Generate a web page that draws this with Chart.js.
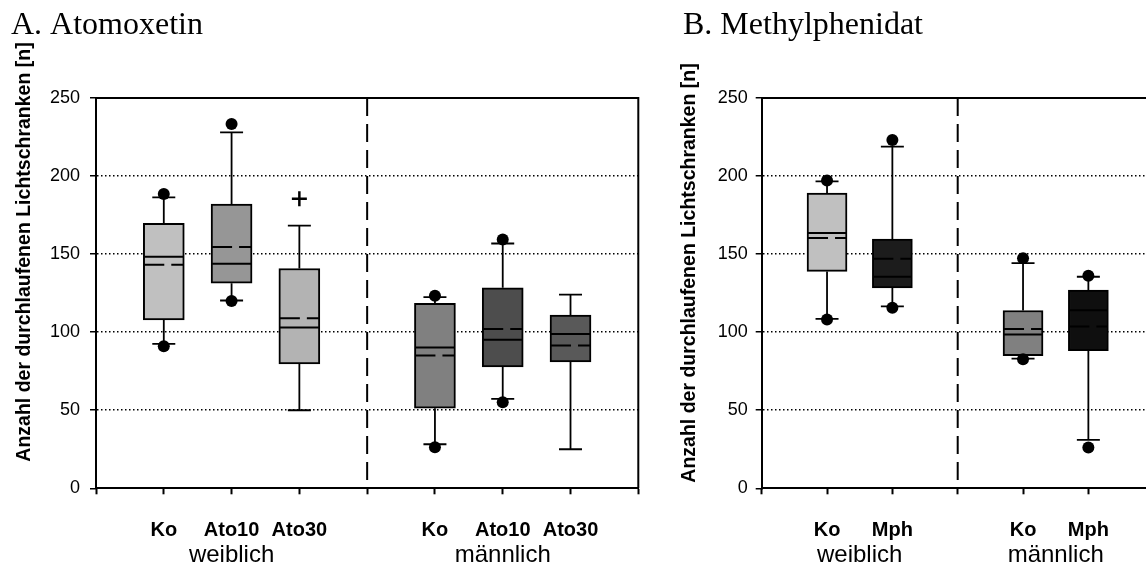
<!DOCTYPE html>
<html><head><meta charset="utf-8">
<script src="https://cdn.jsdelivr.net/npm/chart.js@4.4.1/dist/chart.umd.min.js"></script>
<style>
html,body{margin:0;padding:0;background:#fff;overflow:hidden;width:1146px;height:566px;position:relative;}
canvas{position:absolute;top:0;}
#cA{left:0}
#cB{left:660px}
</style></head><body>
<canvas id="cA" width="660" height="566"></canvas>
<canvas id="cB" width="500" height="566"></canvas>
<script>
// ---------- Data: A. Atomoxetin ----------
const titleA = 'A. Atomoxetin';
const groupsA = ['weiblich', 'männlich'];
const treatmentsA = ['Ko', 'Ato10', 'Ato30'];
const whiskerLowA  = [92.5, 120.3, 50.0, 28.2, 57.3, 25.0];
const q1A          = [107.9, 131.4, 79.7, 51.3, 77.8, 81.0];
const medianA      = [148.3, 143.8, 103.0, 90.2, 95.1, 98.9];
const meanA        = [143.2, 154.5, 109.0, 85.0, 102.1, 91.5];
const q3A          = [169.7, 182.0, 140.8, 118.4, 128.4, 110.9];
const whiskerHighA = [186.3, 228.0, 168.2, 122.4, 156.8, 124.1];
const dotHighA     = [188.5, 233.3, null, 123.3, 159.4, null];
const dotLowA      = [91.0, 120.0, null, 26.3, 55.1, null];
const outlierA     = [null, null, 185.5, null, null, null];
const colorsA      = ['#c0c0c0', '#969696', '#b3b3b3', '#808080', '#4d4d4d', '#595959'];

// ---------- Data: B. Methylphenidat ----------
const titleB = 'B. Methylphenidat';
const groupsB = ['weiblich', 'männlich'];
const treatmentsB = ['Ko', 'Mph'];
const whiskerLowB  = [108.5, 116.5, 83.1, 31.0];
const q1B          = [138.9, 128.4, 85.0, 88.2];
const medianB      = [163.5, 135.5, 98.5, 114.1];
const meanB        = [160.3, 147.0, 102.1, 103.6];
const q3B          = [189.1, 159.6, 113.9, 126.9];
const whiskerHighB = [196.6, 218.8, 144.2, 135.5];
const dotHighB     = [197.2, 223.1, 147.4, 136.1];
const dotLowB      = [108.1, 115.6, 82.7, 26.1];
const outlierB     = [null, null, null, null];
const colorsB      = ['#c0c0c0', '#1c1c1c', '#808080', '#0f0f0f'];

const yTicks = [0, 50, 100, 150, 200, 250];
const yAxisTitle = 'Anzahl der durchlaufenen Lichtschranken [n]';

const SANS = "'Liberation Sans', Arial, sans-serif";
const SERIF = "'Liberation Serif', 'Times New Roman', serif";

function makeChart(canvasId, d, lay) {
  const n = d.treatments.length;
  const nGroups = d.groups.length;
  const slot = i => Math.floor(i / n) * (n + 1) + (i % n) + 1;
  const pos = d.q1.map((_, i) => slot(i));
  const xMax = nGroups * (n + 1);
  const pts = arr => arr.map((v, i) => v == null ? null : {x: pos[i], y: v}).filter(Boolean);

  const plugin = {
    id: 'boxparts',
    beforeDatasetsDraw(chart) {
      const {ctx, chartArea: a, scales: {x, y}} = chart;
      ctx.save();
      ctx.strokeStyle = '#000';
      for (let g = 1; g < nGroups; g++) {
        const dx = x.getPixelForValue(g * (n + 1));
        ctx.lineWidth = 2;
        ctx.setLineDash([18, 8]);
        ctx.beginPath(); ctx.moveTo(dx, a.top); ctx.lineTo(dx, a.bottom); ctx.stroke();
      }
      ctx.setLineDash([]);
      ctx.lineWidth = 1.8;
      const cap = lay.cap;
      d.q1.forEach((v, i) => {
        const px = x.getPixelForValue(pos[i]);
        const yl = y.getPixelForValue(d.wLow[i]), yq1 = y.getPixelForValue(d.q1[i]);
        const yq3 = y.getPixelForValue(d.q3[i]), yh = y.getPixelForValue(d.wHigh[i]);
        ctx.beginPath();
        ctx.moveTo(px, yq3); ctx.lineTo(px, yh);
        ctx.moveTo(px - cap / 2, yh); ctx.lineTo(px + cap / 2, yh);
        ctx.moveTo(px, yq1); ctx.lineTo(px, yl);
        ctx.moveTo(px - cap / 2, yl); ctx.lineTo(px + cap / 2, yl);
        ctx.stroke();
      });
      ctx.restore();
    },
    afterDatasetsDraw(chart) {
      const {ctx, chartArea: a, scales: {x, y}} = chart;
      ctx.save();
      ctx.strokeStyle = '#000';
      const half = lay.boxW / 2;
      d.q1.forEach((v, i) => {
        const px = x.getPixelForValue(pos[i]);
        const ym = y.getPixelForValue(d.median[i]);
        ctx.lineWidth = 2;
        ctx.setLineDash([]);
        ctx.beginPath(); ctx.moveTo(px - half + 1, ym); ctx.lineTo(px + half - 1, ym); ctx.stroke();
        const ya = y.getPixelForValue(d.mean[i]);
        ctx.setLineDash([20, 7]);
        ctx.beginPath(); ctx.moveTo(px - half + 1, ya); ctx.lineTo(px + half - 1, ya); ctx.stroke();
      });
      ctx.setLineDash([]);
      ctx.lineWidth = 2;
      ctx.beginPath();
      ctx.moveTo(a.left, a.top); ctx.lineTo(a.right, a.top); ctx.lineTo(a.right, a.bottom);
      ctx.stroke();
      ctx.restore();
    },
    afterDraw(chart) {
      const {ctx, scales: {x}} = chart;
      ctx.save();
      ctx.fillStyle = '#000';
      ctx.font = '32px ' + SERIF;
      ctx.textAlign = 'left'; ctx.textBaseline = 'alphabetic';
      ctx.fillText(d.title, lay.titleX, 34);
      ctx.textAlign = 'center';
      ctx.font = 'bold 20px ' + SANS;
      d.q1.forEach((v, i) => {
        ctx.fillText(d.treatments[i % n], x.getPixelForValue(pos[i]), 536);
      });
      ctx.font = '24px ' + SANS;
      d.groups.forEach((g, gi) => {
        const c = (slot(gi * n) + slot(gi * n + n - 1)) / 2;
        ctx.fillText(g, x.getPixelForValue(c), 562);
      });
      ctx.translate(lay.yTitleX, lay.yTitleY);
      ctx.rotate(-Math.PI / 2);
      ctx.font = 'bold 19.5px ' + SANS;
      ctx.textBaseline = 'middle';
      ctx.fillText(yAxisTitle, 0, 0);
      ctx.restore();
    }
  };

  return new Chart(document.getElementById(canvasId), {
    type: 'bar',
    data: {
      datasets: [
        {
          type: 'scatter', data: pts(d.dotHigh).concat(pts(d.dotLow)),
          pointStyle: 'circle', pointRadius: 6, pointBackgroundColor: '#000',
          pointBorderColor: '#000', pointBorderWidth: 0, showLine: false, order: 0
        },
        {
          type: 'scatter', data: pts(d.outlier),
          pointStyle: 'cross', pointRadius: 7.5, pointBorderColor: '#000',
          pointBorderWidth: 2.5, showLine: false, order: 1
        },
        {
          type: 'bar',
          data: d.q1.map((v, i) => ({x: pos[i], y: [d.q1[i], d.q3[i]]})),
          backgroundColor: d.colors, borderColor: '#000', borderWidth: 2,
          borderSkipped: false, barThickness: lay.boxW, order: 2
        }
      ]
    },
    options: {
      responsive: false, animation: false,
      layout: {padding: {top: 98, right: lay.padRight, bottom: 0, left: 0}},
      plugins: {legend: {display: false}, tooltip: {enabled: false}, title: {display: false}},
      scales: {
        x: {
          type: 'linear', min: 0, max: xMax, offset: false,
          afterFit: s => { s.height = 77.7; },
          ticks: {stepSize: 1, autoSkip: false, callback: () => '', font: {size: 1}},
          grid: {display: true, offset: false, drawOnChartArea: false, drawTicks: true,
                 tickLength: 6, tickWidth: 2, tickColor: '#000', color: '#000'},
          border: {display: true, color: '#000', width: 2}
        },
        y: {
          type: 'linear', min: yTicks[0], max: yTicks[yTicks.length - 1],
          afterFit: s => { s.width = lay.yWidth; },
          afterBuildTicks: s => { s.ticks = yTicks.map(v => ({value: v})); },
          ticks: {color: '#000', font: {family: SANS, size: 18}, padding: lay.tickPad},
          grid: {
            display: true, drawOnChartArea: true, drawTicks: true, tickLength: 6,
            tickWidth: 1.5, tickColor: '#000', lineWidth: 1.5,
            color: c => (c.tick && (c.tick.value === yTicks[0] || c.tick.value === yTicks[yTicks.length - 1])) ? 'rgba(0,0,0,0)' : '#000'
          },
          border: {display: true, color: '#000', width: 2, dash: [1.5, 2.5]}
        }
      }
    },
    plugins: [plugin]
  });
}

makeChart('cA', {
  title: titleA, groups: groupsA, treatments: treatmentsA,
  wLow: whiskerLowA, q1: q1A, median: medianA, mean: meanA, q3: q3A, wHigh: whiskerHighA,
  dotHigh: dotHighA, dotLow: dotLowA, outlier: outlierA, colors: colorsA
}, {boxW: 41, cap: 23, padRight: 21.7, yWidth: 96, tickPad: 10, titleX: 11, yTitleX: 25, yTitleY: 252});

makeChart('cB', {
  title: titleB, groups: groupsB, treatments: treatmentsB,
  wLow: whiskerLowB, q1: q1B, median: medianB, mean: meanB, q3: q3B, wHigh: whiskerHighB,
  dotHigh: dotHighB, dotLow: dotLowB, outlier: outlierB, colors: colorsB
}, {boxW: 40, cap: 23, padRight: 6.3, yWidth: 101.7, tickPad: 8, titleX: 23, yTitleX: 30, yTitleY: 273});
</script>
</body></html>
